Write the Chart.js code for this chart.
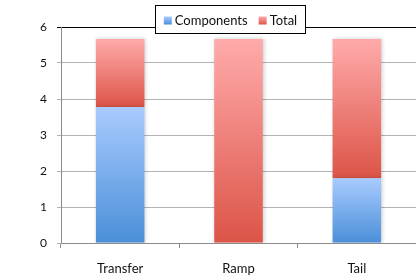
<!DOCTYPE html>
<html>
<head>
<meta charset="utf-8">
<script src="https://cdn.jsdelivr.net/npm/chart.js@4"></script>
<style>
html,body{margin:0;padding:0;background:#fff;overflow:hidden;}
canvas{display:block;}
</style>
</head>
<body>
<canvas id="c" width="416" height="280"></canvas>
<script>
const categories = ['Transfer', 'Ramp', 'Tail'];
const components = [3.78, 0, 1.8];
const total = [1.89, 5.67, 3.87];
const yTicks = [0, 1, 2, 3, 4, 5, 6];
const seriesNames = ['Components', 'Total'];

const BLUE = ['#a9cbff', '#4a8fd8'];
const RED = ['#ffabab', '#dc5447'];

function segGradient(context, cols) {
  const chart = context.chart;
  if (!chart.chartArea || context.type !== 'data') return cols[1];
  const i = context.dataIndex;
  const lo = context.datasetIndex === 0 ? 0 : components[i];
  const hi = context.datasetIndex === 0 ? components[i] : components[i] + total[i];
  const y = chart.scales.y;
  const p0 = y.getPixelForValue(hi), p1 = y.getPixelForValue(lo);
  if (p1 - p0 < 1) return cols[1];
  const g = chart.ctx.createLinearGradient(0, p0, 0, p1);
  g.addColorStop(0, cols[0]);
  g.addColorStop(1, cols[1]);
  return g;
}

const shadowPlugin = {
  id: 'shadow',
  beforeDatasetsDraw(chart) {
    const c = chart.ctx;
    c.save();
    c.shadowColor = 'rgba(0,0,0,0.22)';
    c.shadowBlur = 4;
    c.shadowOffsetX = 1;
    c.shadowOffsetY = 0;
  },
  afterDatasetsDraw(chart) { chart.ctx.restore(); }
};

const boxLegend = {
  id: 'boxLegend',
  afterDraw(chart) {
    const c = chart.ctx;
    c.save();
    c.font = '13px Lato';
    const sq = 8, gapSq = 3, gapItem = 11;
    const cols = [BLUE, RED];
    const widths = seriesNames.map(n => c.measureText(n).width);
    const inner = widths.reduce((a, w) => a + sq + gapSq + w, 0) + gapItem * (seriesNames.length - 1);
    const left = 155, top = 5, boxW = 151, boxH = 29;
    c.fillStyle = '#fff';
    c.fillRect(left, top, boxW, boxH);
    c.strokeStyle = '#000';
    c.lineWidth = 1;
    c.strokeRect(left + 0.5, top + 0.5, boxW - 1, boxH - 1);
    let x = left + (boxW - inner) / 2;
    const cy = top + boxH / 2 + 1;
    seriesNames.forEach((n, k) => {
      const g = c.createLinearGradient(0, cy - sq / 2, 0, cy + sq / 2);
      g.addColorStop(0, cols[k][0]);
      g.addColorStop(1, cols[k][1]);
      c.fillStyle = g;
      c.fillRect(x, cy - sq / 2, sq, sq);
      x += sq + gapSq;
      c.fillStyle = '#111';
      c.textBaseline = 'middle';
      c.fillText(n, x, cy);
      x += widths[k] + gapItem;
    });
    c.restore();
  }
};

new Chart(document.getElementById('c'), {
  type: 'bar',
  data: {
    labels: categories,
    datasets: [
      { label: seriesNames[0], data: components, backgroundColor: ctx => segGradient(ctx, BLUE), borderWidth: 0 },
      { label: seriesNames[1], data: total, backgroundColor: ctx => segGradient(ctx, RED), borderWidth: 0 }
    ]
  },
  options: {
    responsive: false,
    animation: false,
    events: [],
    layout: { padding: { top: 27, right: 0, left: 0, bottom: 0 } },
    plugins: { legend: { display: false }, tooltip: { enabled: false } },
    datasets: { bar: { categoryPercentage: 1, barPercentage: 0.41 } },
    scales: {
      x: {
        stacked: true,
        afterFit(s) { s.height = 37; },
        grid: { offset: true, drawOnChartArea: false, tickLength: 5, color: '#8c8c8c' },
        border: { color: '#8c8c8c', width: 1 },
        ticks: { color: '#111', font: { family: 'Lato', size: 13 }, padding: 13 }
      },
      y: {
        stacked: true,
        min: 0, max: 6,
        afterFit(s) { s.width = 61; },
        afterBuildTicks(s) { s.ticks = yTicks.map(v => ({ value: v })); },
        grid: {
          color: ctx => (ctx.tick && ctx.tick.value === 6) ? '#000' : '#b3b3b3',
          tickLength: 4,
          lineWidth: 1
        },
        border: { color: '#8c8c8c', width: 1 },
        ticks: { color: '#111', font: { family: 'Lato', size: 12 }, padding: 10 }
      }
    }
  },
  plugins: [shadowPlugin, boxLegend]
});
</script>
</body>
</html>
